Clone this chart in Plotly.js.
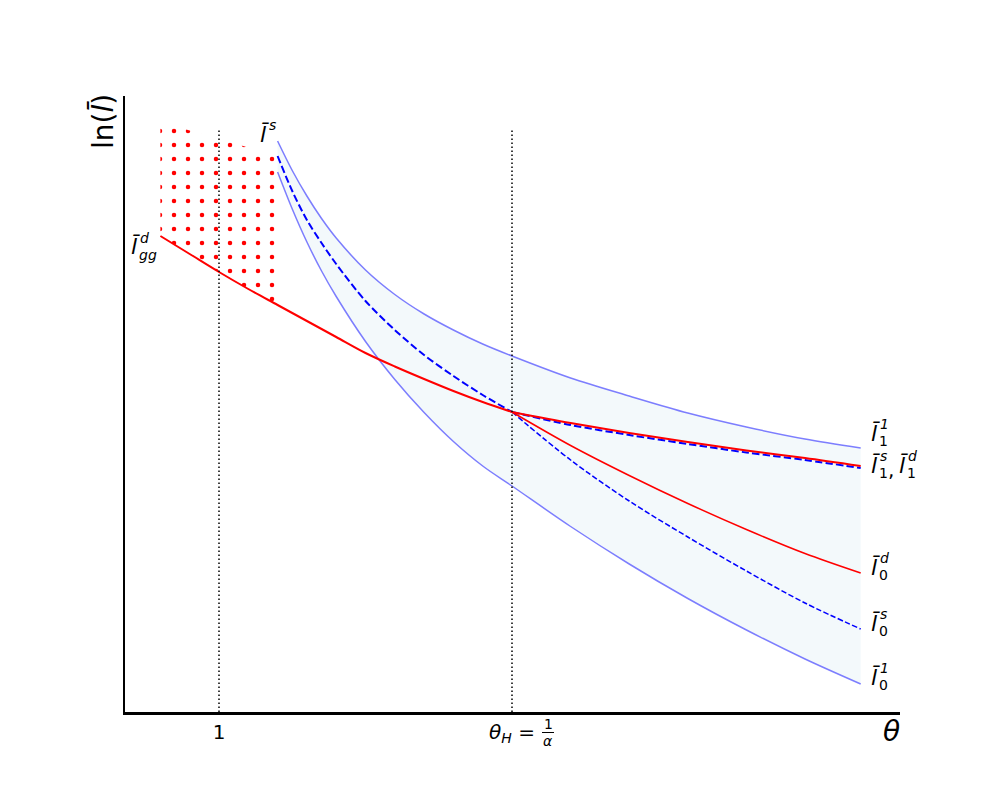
<!DOCTYPE html>
<html>
<head>
<meta charset="utf-8">
<script src="https://cdn.plot.ly/plotly-3.0.1.min.js"></script>
<style>
  body { margin: 0; background: #fff; }
  #chart { width: 1000px; height: 800px; }
</style>
</head>
<body>
<div id="chart"></div>
<script>
// theta grid and ln(l) values
const thetaDemandLeft = [0.8, 0.9, 1.0, 1.1, 1.2, 1.3, 1.4, 1.5, 1.6, 1.7, 1.8, 1.9, 2.0];
const lnDemandLeft = [4.76, 4.58, 4.40, 4.23, 4.07, 3.91, 3.75, 3.59, 3.455, 3.33, 3.21, 3.10, 3.00];

const thetaBand = [1.2, 1.25, 1.3, 1.35, 1.4, 1.5, 1.6, 1.7, 1.8, 1.9, 2.0, 2.2, 2.4, 2.6, 2.8, 3.0, 3.19];
const lnUpper1 = [5.71, 5.415, 5.16, 4.935, 4.74, 4.42, 4.175, 3.98, 3.82, 3.68, 3.56, 3.34, 3.16, 2.99, 2.85, 2.73, 2.64];
const lnLower1 = [5.40, 5.03, 4.70, 4.41, 4.155, 3.705, 3.325, 2.995, 2.705, 2.46, 2.26, 1.855, 1.48, 1.135, 0.82, 0.53, 0.28];

const thetaSupplyLeft = [1.2, 1.25, 1.3, 1.35, 1.4, 1.5, 1.6, 1.7, 1.8, 1.9, 2.0];
const lnSupplyLeft = [5.56, 5.21, 4.92, 4.69, 4.48, 4.11, 3.82, 3.57, 3.36, 3.17, 3.00];

const thetaRight = [2.0, 2.2, 2.4, 2.6, 2.8, 3.0, 3.19];
const lnSupply1 = [3.00, 2.87, 2.77, 2.68, 2.595, 2.52, 2.44];
const lnDemand1 = [3.00, 2.89, 2.79, 2.70, 2.615, 2.54, 2.46];
const lnDemand0 = [3.00, 2.665, 2.365, 2.085, 1.825, 1.585, 1.39];
const lnSupply0 = [3.00, 2.52, 2.11, 1.75, 1.41, 1.09, 0.83];

// dotted (hatched) region: top edge, bottom edge follows the demand curve
const hatchTheta = [0.8, 1.2];
const hatchTop = [5.90, 5.56];

// vertical reference lines and their tick labels
const markTheta = [1, 2];
const markTop = 5.82;
const tickText = ["1", "<i>θ</i><sub><i>H</i></sub> ="];

const FONT = "DejaVu Sans";
const SM = 0.9;
const spl = { shape: "spline", smoothing: SM };

// polygon for the dotted region
const lowIdx = thetaDemandLeft.map((t, i) => i).filter(i => thetaDemandLeft[i] <= hatchTheta[1]);
const hatchX = hatchTheta.concat(lowIdx.map(i => thetaDemandLeft[i]).reverse());
const hatchY = hatchTop.concat(lowIdx.map(i => lnDemandLeft[i]).reverse());

const traces = [
  // shaded band between the light blue curves
  { x: thetaBand, y: lnLower1, mode: "lines", line: { width: 0, shape: "spline", smoothing: SM }, hoverinfo: "skip" },
  {
    x: thetaBand, y: lnUpper1, mode: "lines", fill: "tonexty",
    fillcolor: "rgba(173,216,230,0.15)", line: { width: 0, shape: "spline", smoothing: SM }, hoverinfo: "skip"
  },
  {
    x: hatchX, y: hatchY, mode: "lines", fill: "toself",
    fillcolor: "rgba(0,0,0,0)", line: { width: 0 },
    fillpattern: { shape: ".", fgcolor: "red", bgcolor: "rgba(0,0,0,0)", size: 14, solidity: 0.08 },
    hoverinfo: "skip"
  },
  { x: thetaBand, y: lnUpper1, mode: "lines", line: Object.assign({ color: "rgba(0,0,255,0.5)", width: 1.5 }, spl) },
  { x: thetaBand, y: lnLower1, mode: "lines", line: Object.assign({ color: "rgba(0,0,255,0.5)", width: 1.5 }, spl) },
  { x: thetaSupplyLeft, y: lnSupplyLeft, mode: "lines", line: Object.assign({ color: "blue", width: 2, dash: "7.4px,3.2px" }, spl) },
  { x: thetaRight, y: lnSupply1, mode: "lines", line: Object.assign({ color: "blue", width: 2, dash: "7.4px,3.2px" }, spl) },
  { x: thetaRight, y: lnSupply0, mode: "lines", line: Object.assign({ color: "blue", width: 1.5, dash: "5.5px,2.4px" }, spl) },
  { x: thetaDemandLeft, y: lnDemandLeft, mode: "lines", line: Object.assign({ color: "red", width: 2 }, spl) },
  { x: thetaRight, y: lnDemand1, mode: "lines", line: Object.assign({ color: "red", width: 2 }, spl) },
  { x: thetaRight, y: lnDemand0, mode: "lines", line: Object.assign({ color: "red", width: 1.5 }, spl) }
];

markTheta.forEach(t => {
  traces.push({
    x: [t, t], y: [0, markTop], mode: "lines",
    line: { color: "black", width: 1.5, dash: "1.5px,2.5px" }
  });
});

// pixel position -> paper coords (plot area 125..900 x 96..712)
const px = x => (x - 125) / 775;
const py = y => (712 - y) / 616;

const annotations = [];
function note(x, y, text, size, extra) {
  annotations.push(Object.assign({
    xref: "paper", yref: "paper", x: px(x), y: py(y), text: text,
    showarrow: false, xanchor: "center", yanchor: "middle",
    font: { family: FONT, size: size, color: "black" }
  }, extra || {}));
}
// l-bar with stacked superscript / subscript
function lbar(x, y, sup, sub) {
  note(x, y, "<i>l̄</i>", 22);
  if (sup) note(x + 3, y - 9, "<i>" + sup + "</i>", 14, { xanchor: "left" });
  if (sub) note(x + 2, y + 8, sub, 14, { xanchor: "left" });
}

lbar(264, 134, "s", null);
lbar(135, 247, "d", "<i>gg</i>");
lbar(875, 433, "1", "1");
lbar(875, 465, "s", "1");
note(891, 470, ",", 20);
lbar(903, 465, "d", "1");
lbar(875, 567, "d", "0");
lbar(875, 623, "s", "0");
lbar(875, 677, "1", "0");

// axis titles
note(891, 731, "<i>θ</i>", 28);
note(103, 122, "ln(<i>l̄</i>)", 28, { textangle: -90 });

// fraction 1/alpha next to the theta_H tick
note(548, 724, "1", 14);
note(548, 741, "<i>α</i>", 14);

const layout = {
  width: 1000,
  height: 800,
  margin: { l: 125, r: 100, t: 96, b: 88 },
  paper_bgcolor: "white",
  plot_bgcolor: "white",
  showlegend: false,
  font: { family: FONT, color: "black" },
  xaxis: {
    range: [0.6792, 3.3242],
    showline: true, linecolor: "black", linewidth: 2.5,
    showgrid: false, zeroline: false,
    tickvals: markTheta, ticktext: tickText, ticks: "",
    tickfont: { family: FONT, size: 20, color: "black" }
  },
  yaxis: {
    range: [0, 6.16],
    showline: true, linecolor: "black", linewidth: 2.5,
    showgrid: false, zeroline: false, showticklabels: false, ticks: ""
  },
  shapes: [
    {
      type: "line", xref: "paper", yref: "paper",
      x0: px(542), x1: px(554), y0: py(732.5), y1: py(732.5),
      line: { color: "black", width: 1 }
    }
  ],
  annotations: annotations
};

Plotly.newPlot("chart", traces, layout, { staticPlot: true, displayModeBar: false });
</script>
</body>
</html>
